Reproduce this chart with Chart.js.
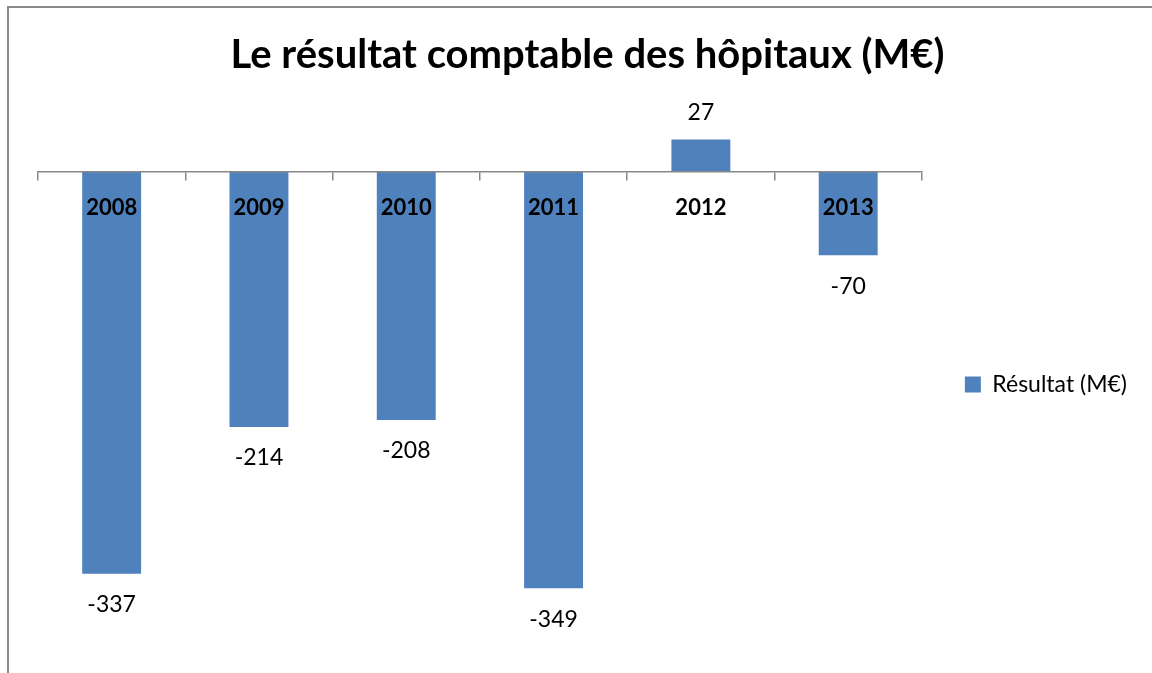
<!DOCTYPE html>
<html>
<head>
<meta charset="utf-8">
<script src="https://cdn.jsdelivr.net/npm/chart.js@4.4.1/dist/chart.umd.min.js"></script>
<style>
  html, body { margin: 0; padding: 0; background: #ffffff; }
  #wrap { position: relative; width: 1152px; height: 673px; overflow: hidden; }
  #frame { position: absolute; left: 7px; top: 6px; width: 1200px; height: 700px;
           border-left: 2px solid #8a8a8a; border-top: 2px solid #8a8a8a; pointer-events: none; }
  canvas { position: absolute; left: 0; top: 0; }
</style>
</head>
<body>
<div id="wrap">
  <canvas id="c" width="1152" height="673"></canvas>
  <div id="frame"></div>
</div>
<script>
const categories = ['2008', '2009', '2010', '2011', '2012', '2013'];
const resultValues = [-337, -214, -208, -349, 27, -70];
const seriesName = 'Résultat (M€)';
const chartTitle = 'Le résultat comptable des hôpitaux (M€)';

const FONT = 'Lato, "Open Sans", "DejaVu Sans", sans-serif';

const valueLabels = {
  id: 'valueLabels',
  afterDatasetsDraw(chart) {
    const ctx = chart.ctx;
    const meta = chart.getDatasetMeta(0);
    ctx.save();
    ctx.font = '23px ' + FONT;
    ctx.fillStyle = '#000000';
    ctx.textAlign = 'center';
    ctx.textBaseline = 'middle';
    meta.data.forEach((bar, i) => {
      const v = chart.data.datasets[0].data[i];
      const y = v < 0 ? bar.y + 31 : bar.y - 27;
      ctx.fillText(String(v), bar.x, y);
    });
    ctx.restore();
  }
};

new Chart(document.getElementById('c'), {
  type: 'bar',
  data: {
    labels: categories,
    datasets: [{
      label: seriesName,
      data: resultValues,
      backgroundColor: '#4F81BD',
      borderWidth: 0,
      categoryPercentage: 1.0,
      barPercentage: 0.4
    }]
  },
  options: {
    responsive: false,
    animation: false,
    layout: { padding: { left: 38, right: 15, top: 0, bottom: 24 } },
    plugins: {
      title: {
        display: true,
        text: chartTitle,
        color: '#000000',
        font: { family: FONT, size: 40, weight: 'bold', lineHeight: 1.2 },
        padding: { top: 31, bottom: 33 }
      },
      legend: {
        display: true,
        position: 'right',
        title: {
          display: true,
          text: '',
          font: { size: 10, lineHeight: 1.2 },
          padding: { top: 108, bottom: 0 }
        },
        labels: {
          color: '#000000',
          font: { family: FONT, size: 23 },
          boxWidth: 16,
          boxHeight: 16,
          padding: 43
        }
      },
      tooltip: { enabled: false }
    },
    scales: {
      x: {
        position: { y: 0 },
        offset: true,
        grid: {
          display: true,
          drawOnChartArea: false,
          drawTicks: true,
          tickLength: 8,
          offset: true,
          color: '#878787',
          lineWidth: 1.5
        },
        border: { display: true, color: '#878787', width: 1.5, z: 1 },
        ticks: {
          z: 2,
          color: '#000000',
          font: { family: FONT, size: 22, weight: 'bold' },
          padding: 15,
          maxRotation: 0
        }
      },
      y: {
        display: false,
        min: -400,
        max: 50
      }
    }
  },
  plugins: [valueLabels]
});
</script>
</body>
</html>
